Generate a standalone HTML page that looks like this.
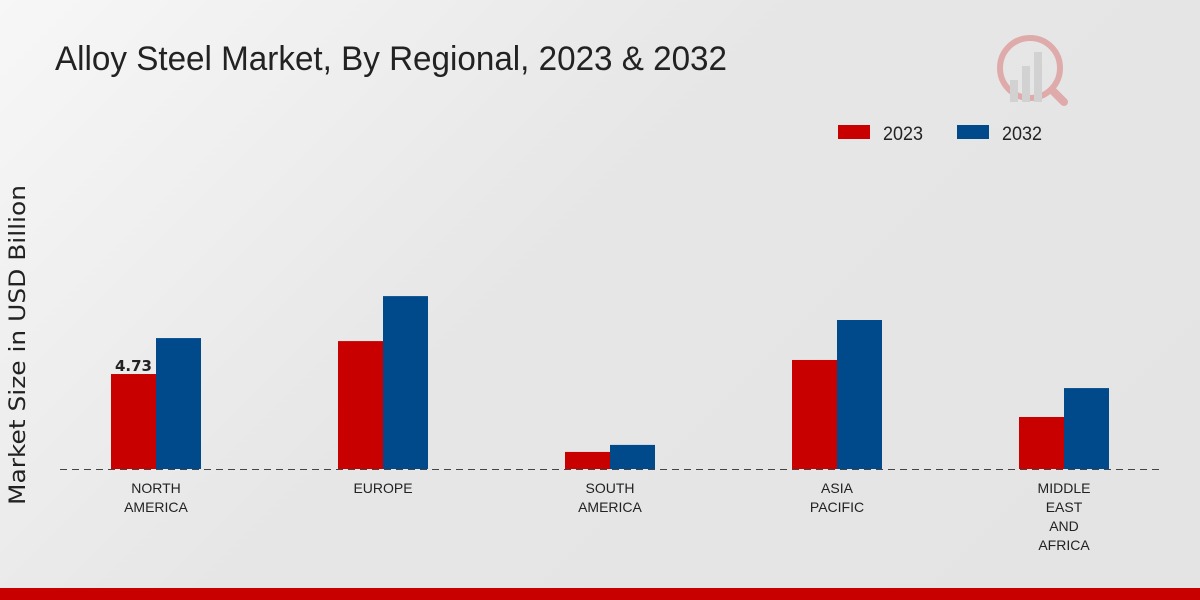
<!DOCTYPE html>
<html><head><meta charset="utf-8"><style>
html,body{margin:0;padding:0;width:1200px;height:600px;overflow:hidden}
body{background:linear-gradient(135deg,#f7f7f7 0%,#e6e6e6 45%,#e4e4e4 100%);font-family:"Liberation Sans",sans-serif}
</style></head><body>
<svg id="chart" width="1200" height="600" xmlns="http://www.w3.org/2000/svg">
<text x="55" y="70" font-size="34" fill="#222" textLength="672" lengthAdjust="spacingAndGlyphs">Alloy Steel Market, By Regional, 2023 &amp; 2032</text>
<g opacity="0.25">
<circle cx="1030" cy="68" r="30" fill="none" stroke="#c00" stroke-width="6"/>
<rect x="1010" y="80" width="8" height="22" fill="#999"/><rect x="1022" y="66" width="8" height="36" fill="#999"/><rect x="1034" y="52" width="8" height="50" fill="#999"/>
<line x1="1052" y1="90" x2="1064" y2="102" stroke="#c00" stroke-width="8" stroke-linecap="round"/>
</g>
<g>
<rect x="838" y="125" width="32" height="14" fill="#c80000"/>
<text x="883" y="140" font-size="19" fill="#222" textLength="40" lengthAdjust="spacingAndGlyphs">2023</text>
<rect x="957" y="125" width="32" height="14" fill="#004a8c"/>
<text x="1002" y="140" font-size="19" fill="#222" textLength="40" lengthAdjust="spacingAndGlyphs">2032</text>
</g>
<text transform="translate(25,345) rotate(-90)" text-anchor="middle" font-size="22" fill="#222" font-family="DejaVu Sans, sans-serif" textLength="320" lengthAdjust="spacingAndGlyphs">Market Size in USD Billion</text>
<g id="bars"></g>
<line x1="60" y1="469.5" x2="1160" y2="469.5" stroke="#444" stroke-dasharray="7,5"/>
<g id="xlabels"></g>
<rect x="0" y="588" width="1200" height="12" fill="#c80000"/>
</svg>
<script>
const categories = [["NORTH","AMERICA"],["EUROPE"],["SOUTH","AMERICA"],["ASIA","PACIFIC"],["MIDDLE","EAST","AND","AFRICA"]];
const values2023 = [4.73, 6.37, 0.85, 5.43, 2.59];
const values2032 = [6.52, 8.61, 1.2, 7.42, 4.03];
const NS="http://www.w3.org/2000/svg";
const baseY=469, scale=20.08, x0=156, step=227, bw=45;
const yPos=v=>baseY-v*scale;
const xPos=i=>x0+i*step;
const bars=document.getElementById('bars'), xl=document.getElementById('xlabels');
categories.forEach((c,i)=>{
  [[values2023,'#c80000',-bw,'2023'],[values2032,'#004a8c',0,'2032']].forEach(([arr,col,off,yr])=>{
    const r=document.createElementNS(NS,'rect');
    r.setAttribute('x',xPos(i)+off);r.setAttribute('y',yPos(arr[i]));
    r.setAttribute('width',bw);r.setAttribute('height',baseY-yPos(arr[i]));r.setAttribute('fill',col);
    
    
    bars.appendChild(r);
  });
  c.forEach((line,j)=>{
    const t=document.createElementNS(NS,'text');
    t.setAttribute('x',xPos(i));t.setAttribute('y',493+j*19);t.setAttribute('text-anchor','middle');
    t.setAttribute('font-size','14');t.setAttribute('fill','#222');t.textContent=line;
    
    
    xl.appendChild(t);
  });
});
const lab=document.createElementNS(NS,'text');
lab.setAttribute('x',xPos(0)-bw/2);lab.setAttribute('y',yPos(values2023[0])-3);
lab.setAttribute('text-anchor','middle');lab.setAttribute('font-size','15');lab.setAttribute('font-weight','bold');lab.setAttribute('fill','#222');
lab.setAttribute('font-family','DejaVu Sans, sans-serif');
lab.textContent=values2023[0];


bars.appendChild(lab);
</script>
</body></html>
